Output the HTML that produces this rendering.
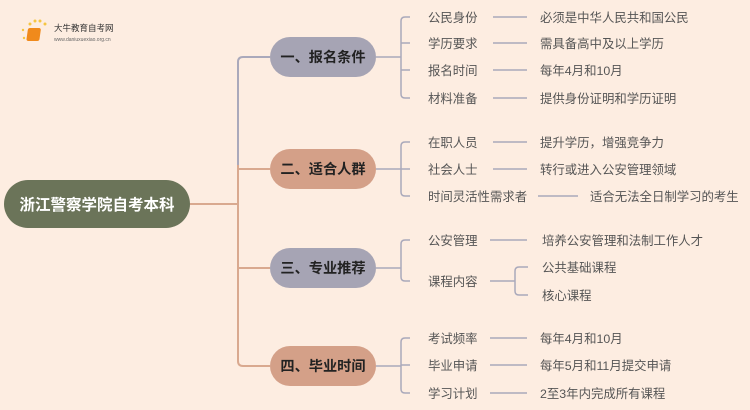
<!DOCTYPE html>
<html><head><meta charset="utf-8"><style>
html,body{margin:0;padding:0;background:#fdede1;}
svg{display:block;}
text{font-family:"Liberation Sans","Noto Sans CJK SC",sans-serif;}
.l{fill:#555;font-size:12.4px;}
.n{font-size:14.2px;font-weight:bold;fill:#222;}
</style></head><body>
<svg width="750" height="410" viewBox="0 0 750 410" xmlns="http://www.w3.org/2000/svg">
<rect width="750" height="410" fill="#fdede1"/>
<g>
<circle cx="30" cy="24" r="1.5" fill="#f5c542"/><circle cx="35" cy="21" r="1.5" fill="#f5c542"/><circle cx="40" cy="21" r="1.5" fill="#f5c542"/><circle cx="45" cy="24" r="1.5" fill="#f5c542"/><circle cx="23" cy="30" r="1.2" fill="#f5c542"/><circle cx="24" cy="38" r="1.2" fill="#f5c542"/>
<rect x="32" y="28" width="13" height="13" rx="2" fill="#f08a1c" transform="skewX(-8)"/>
<text x="54" y="31" font-size="8.5" fill="#333">大牛教育自考网</text>
<text x="54" y="41" font-size="5" fill="#666">www.daniuxuexiao.org.cn</text>
</g>
<g fill="none" stroke-width="2">
<path d="M190 204 H238" stroke="#d9a98f"/>
<path d="M270 57 H243 Q238 57 238 62 V170" stroke="#aaa9bb"/>
<path d="M238 165 V361 Q238 366 243 366 H270 M238 169 H270 M238 268 H270" stroke="#d9a98f"/>
</g>
<g fill="none" stroke="#aaa9bb" stroke-width="1.5">
<path d="M376 57 H401"/>
<path d="M410 17 H405 Q401 17 401 21 V94 Q401 98 405 98 H410 M401 43 H410 M401 70 H410"/>
<path d="M493 17 H527 M493 43 H527 M493 70 H527 M493 98 H527"/>
<path d="M376 169 H401"/>
<path d="M410 142 H405 Q401 142 401 146 V192 Q401 196 405 196 H410 M401 169 H410"/>
<path d="M493 142 H527 M493 169 H527 M538 196 H578"/>
<path d="M376 268 H401"/>
<path d="M410 240 H405 Q401 240 401 244 V277 Q401 281 405 281 H410"/>
<path d="M490 240 H527 M490 281 H515"/>
<path d="M528 267 H519 Q515 267 515 271 V291 Q515 295 519 295 H528"/>
<path d="M376 366 H401"/>
<path d="M410 338 H405 Q401 338 401 342 V389 Q401 393 405 393 H410 M401 365 H410"/>
<path d="M490 338 H527 M490 365 H527 M490 393 H527"/>
</g>
<rect x="4" y="180" width="186" height="48" rx="24" fill="#6b7459"/>
<text x="97" y="210" text-anchor="middle" font-size="15.5" font-weight="bold" fill="#fff">浙江警察学院自考本科</text>
<rect x="270" y="37" width="106" height="40" rx="20" fill="#a6a4b4"/>
<text class="n" x="323" y="62" text-anchor="middle">一、报名条件</text>
<rect x="270" y="149" width="106" height="40" rx="20" fill="#d4a088"/>
<text class="n" x="323" y="174" text-anchor="middle">二、适合人群</text>
<rect x="270" y="248" width="106" height="40" rx="20" fill="#a6a4b4"/>
<text class="n" x="323" y="273" text-anchor="middle">三、专业推荐</text>
<rect x="270" y="346" width="106" height="40" rx="20" fill="#d4a088"/>
<text class="n" x="323" y="371" text-anchor="middle">四、毕业时间</text>
<g>
<text class="l" x="428" y="22">公民身份</text><text class="l" x="540" y="22">必须是中华人民共和国公民</text>
<text class="l" x="428" y="48">学历要求</text><text class="l" x="540" y="48">需具备高中及以上学历</text>
<text class="l" x="428" y="75">报名时间</text><text class="l" x="540" y="75">每年4月和10月</text>
<text class="l" x="428" y="103">材料准备</text><text class="l" x="540" y="103">提供身份证明和学历证明</text>
<text class="l" x="428" y="147">在职人员</text><text class="l" x="540" y="147">提升学历，增强竞争力</text>
<text class="l" x="428" y="174">社会人士</text><text class="l" x="540" y="174">转行或进入公安管理领域</text>
<text class="l" x="428" y="201">时间灵活性需求者</text><text class="l" x="590" y="201">适合无法全日制学习的考生</text>
<text class="l" x="428" y="245">公安管理</text><text class="l" x="542" y="245">培养公安管理和法制工作人才</text>
<text class="l" x="428" y="286">课程内容</text>
<text class="l" x="542" y="272">公共基础课程</text><text class="l" x="542" y="300">核心课程</text>
<text class="l" x="428" y="343">考试频率</text><text class="l" x="540" y="343">每年4月和10月</text>
<text class="l" x="428" y="370">毕业申请</text><text class="l" x="540" y="370">每年5月和11月提交申请</text>
<text class="l" x="428" y="398">学习计划</text><text class="l" x="540" y="398">2至3年内完成所有课程</text>
</g>
</svg>
</body></html>
